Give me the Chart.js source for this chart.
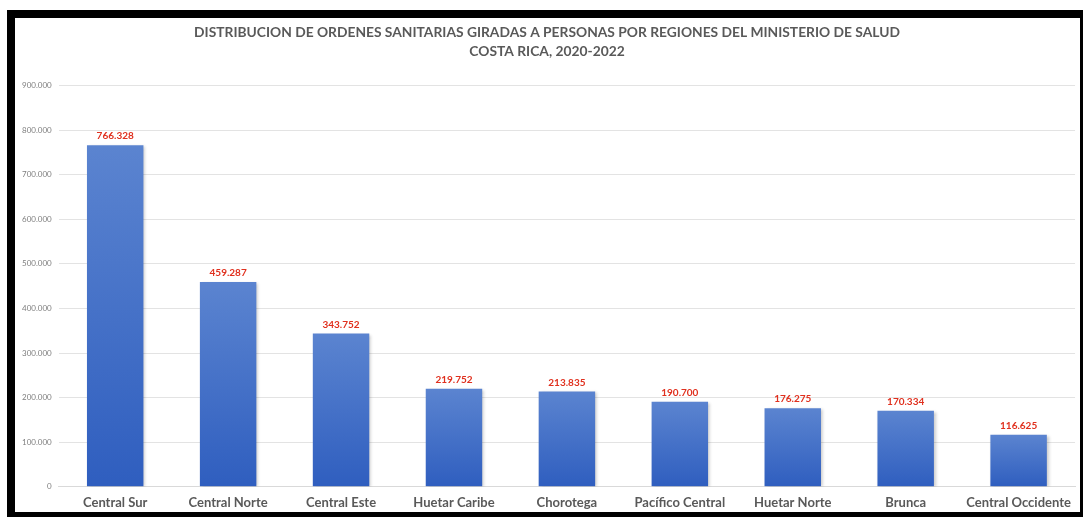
<!DOCTYPE html>
<html>
<head>
<meta charset="utf-8">
<script src="https://cdn.jsdelivr.net/npm/chart.js@4.4.1/dist/chart.umd.min.js"></script>
<style>
  html, body { margin: 0; padding: 0; background: #fff; }
  #frame {
    position: absolute; left: 7px; top: 10px; width: 1076px; height: 507px;
    box-sizing: border-box; background: #fff;
    border-left: 8px solid #000; border-top: 8px solid #000;
    border-right: 3px solid #000; border-bottom: 5px solid #000;
  }
  #wrap { position: relative; width: 1065px; height: 494px; }
</style>
</head>
<body>
<div id="frame"><div id="wrap"><canvas id="chart"></canvas></div></div>
<script>
var regiones = ["Central Sur", "Central Norte", "Central Este", "Huetar Caribe", "Chorotega",
    "Pacífico Central", "Huetar Norte", "Brunca", "Central Occidente"];
var ordenes = [766328, 459287, 343752, 219752, 213835, 190700, 176275, 170334, 116625];
var titulo = ["DISTRIBUCION DE ORDENES SANITARIAS GIRADAS A PERSONAS POR REGIONES DEL MINISTERIO DE SALUD",
    "COSTA RICA, 2020-2022"];

function miles(v) {
    return String(Math.round(v)).replace(/\B(?=(\d{3})+(?!\d))/g, ".");
}

// per-bar gradient, lighter at the top
function barFill(c) {
    var chart = c.chart;
    if (!chart.chartArea || c.raw == null) return "#4472c4";
    var y = chart.scales.y;
    var top = y.getPixelForValue(c.raw), bot = y.getPixelForValue(0);
    var g = chart.ctx.createLinearGradient(0, top, 0, bot);
    g.addColorStop(0, "#5b84d0");
    g.addColorStop(1, "#2f5ebf");
    return g;
}

var barShadow = {
    id: "barShadow",
    beforeDatasetsDraw: function(chart) {
        var ctx = chart.ctx;
        ctx.save();
        ctx.shadowColor = "rgba(0,0,0,0.22)";
        ctx.shadowBlur = 3;
        ctx.shadowOffsetX = 2;
        ctx.shadowOffsetY = 1;
    },
    afterDatasetsDraw: function(chart) {
        chart.ctx.restore();
    }
};

var valueLabels = {
    id: "valueLabels",
    afterDatasetsDraw: function(chart) {
        var ctx = chart.ctx;
        var meta = chart.getDatasetMeta(0);
        ctx.save();
        ctx.fillStyle = "#e0301e";
        ctx.font = "bold 10px Lato";
        ctx.textAlign = "center";
        ctx.textBaseline = "bottom";
        meta.data.forEach(function(bar, i) {
            ctx.fillText(miles(ordenes[i]), bar.x, bar.y - 4);
        });
        ctx.restore();
    }
};

new Chart(document.getElementById("chart"), {
    type: "bar",
    data: {
        labels: regiones,
        datasets: [{
            data: ordenes,
            backgroundColor: barFill,
            borderWidth: 0,
            barPercentage: 0.5,
            categoryPercentage: 1
        }]
    },
    options: {
        responsive: true,
        maintainAspectRatio: false,
        animation: false,
        layout: { padding: { left: 0, right: 1, top: 0, bottom: -7 } },
        plugins: {
            legend: { display: false },
            tooltip: { enabled: false },
            title: {
                display: true,
                text: titulo,
                color: "#595959",
                font: { family: "Lato", size: 13.8, weight: "bold", lineHeight: 1.4 },
                padding: { top: 5, bottom: 24 }
            }
        },
        scales: {
            x: {
                grid: { display: false, drawTicks: false },
                border: { color: "#d9d9d9" },
                ticks: {
                    color: "#595959",
                    font: { family: "Lato", size: 13, weight: "bold", lineHeight: 1.1 },
                    padding: 9
                }
            },
            y: {
                min: 0,
                max: 900000,
                grid: { color: "#e3e3e3", drawTicks: false },
                border: { display: false },
                ticks: {
                    stepSize: 100000,
                    color: "#7f7f7f",
                    font: { family: "Lato", size: 8 },
                    padding: 7,
                    callback: function(v) { return miles(v); }
                }
            }
        }
    },
    plugins: [barShadow, valueLabels]
});
</script>
</body>
</html>
